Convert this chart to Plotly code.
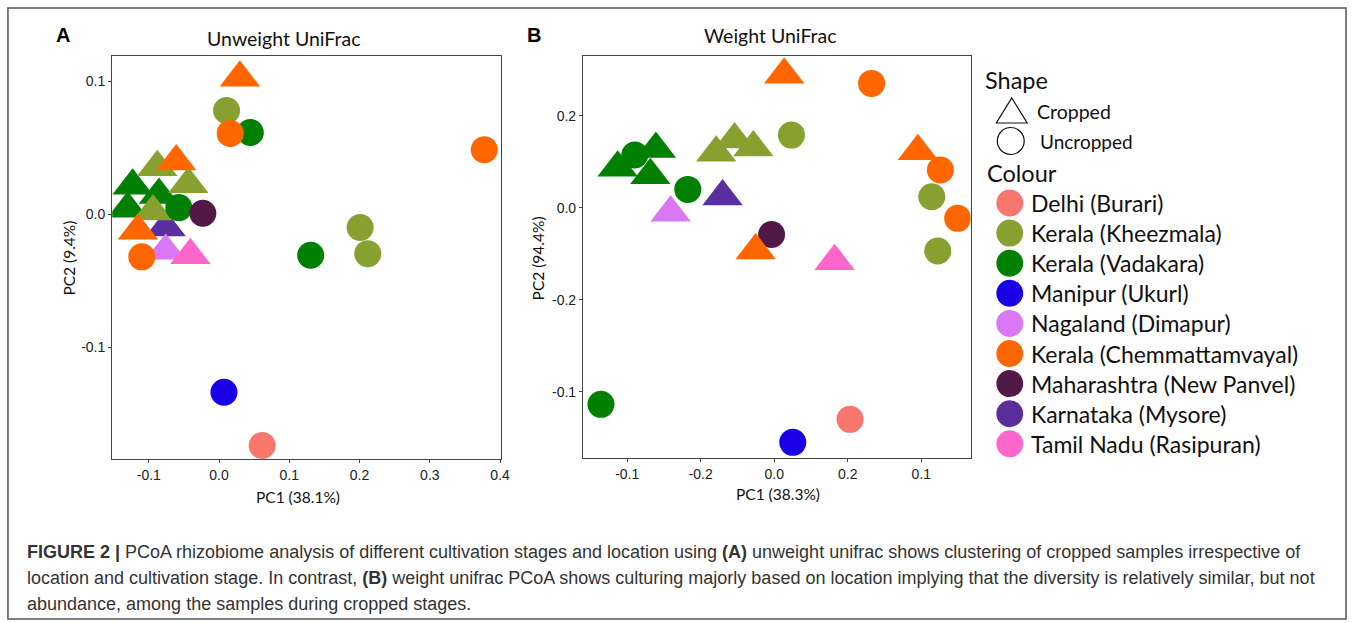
import plotly.graph_objects as go

W, H = 1357, 623

# ---------------- data ----------------
sites = ["Delhi (Burari)", "Kerala (Kheezmala)", "Kerala (Vadakara)", "Manipur (Ukurl)",
         "Nagaland (Dimapur)", "Kerala (Chemmattamvayal)", "Maharashtra (New Panvel)",
         "Karnataka (Mysore)", "Tamil Nadu (Rasipuran)"]
site_colors = ["#F8766D", "#88A030", "#008000", "#1A00E6", "#D977F5",
               "#FF6600", "#521848", "#5B2E9E", "#FF66CC"]

# Panel A  (Unweight UniFrac) - drawn in this order
A_site = ["Karnataka (Mysore)",
          "Kerala (Vadakara)", "Kerala (Vadakara)", "Kerala (Vadakara)",
          "Kerala (Kheezmala)", "Kerala (Kheezmala)", "Kerala (Kheezmala)",
          "Nagaland (Dimapur)", "Tamil Nadu (Rasipuran)",
          "Kerala (Vadakara)", "Kerala (Vadakara)", "Kerala (Vadakara)",
          "Maharashtra (New Panvel)",
          "Kerala (Kheezmala)", "Kerala (Kheezmala)", "Kerala (Kheezmala)",
          "Manipur (Ukurl)", "Delhi (Burari)",
          "Kerala (Chemmattamvayal)", "Kerala (Chemmattamvayal)", "Kerala (Chemmattamvayal)",
          "Kerala (Chemmattamvayal)", "Kerala (Chemmattamvayal)", "Kerala (Chemmattamvayal)"]
A_stage = ["Cropped",
           "Cropped", "Cropped", "Cropped",
           "Cropped", "Cropped", "Cropped",
           "Cropped", "Cropped",
           "Uncropped", "Uncropped", "Uncropped",
           "Uncropped",
           "Uncropped", "Uncropped", "Uncropped",
           "Uncropped", "Uncropped",
           "Cropped", "Cropped", "Cropped",
           "Uncropped", "Uncropped", "Uncropped"]
A_pc1 = [-0.076,
         -0.123, -0.0855, -0.130,
         -0.0879, -0.0437, -0.094,
         -0.076, -0.0408,
         0.0445, -0.0573, 0.1304,
         -0.0231,
         0.0107, 0.2008, 0.2117,
         0.007, 0.0614,
         0.0296, -0.061, -0.1155,
         0.0159, 0.3775, -0.110]
A_pc2 = [-0.010,
         0.0215, 0.0145, 0.0042,
         0.0353, 0.0225, 0.002,
         -0.0275, -0.0308,
         0.0615, 0.005, -0.0308,
         0.0008,
         0.078, -0.010, -0.0296,
         -0.1338, -0.1738,
         0.1027, 0.0397, -0.0123,
         0.0608, 0.0485, -0.032]

# Panel B  (Weight UniFrac)
B_site = ["Kerala (Vadakara)", "Kerala (Vadakara)", "Kerala (Vadakara)",
          "Kerala (Vadakara)", "Kerala (Vadakara)", "Kerala (Vadakara)",
          "Kerala (Kheezmala)", "Kerala (Kheezmala)", "Kerala (Kheezmala)",
          "Kerala (Kheezmala)", "Kerala (Kheezmala)", "Kerala (Kheezmala)",
          "Karnataka (Mysore)", "Nagaland (Dimapur)", "Tamil Nadu (Rasipuran)",
          "Maharashtra (New Panvel)", "Manipur (Ukurl)", "Delhi (Burari)",
          "Kerala (Chemmattamvayal)", "Kerala (Chemmattamvayal)", "Kerala (Chemmattamvayal)",
          "Kerala (Chemmattamvayal)", "Kerala (Chemmattamvayal)", "Kerala (Chemmattamvayal)"]
B_stage = ["Uncropped", "Cropped", "Cropped", "Cropped", "Uncropped", "Uncropped",
           "Cropped", "Cropped", "Cropped", "Uncropped", "Uncropped", "Uncropped",
           "Cropped", "Cropped", "Cropped",
           "Uncropped", "Uncropped", "Uncropped",
           "Uncropped", "Uncropped", "Uncropped", "Cropped", "Cropped", "Cropped"]
B_pc1 = [-0.1897, -0.213, -0.161, -0.1685, -0.1176, -0.2357,
         -0.079, -0.054, -0.0284, 0.0234, 0.2143, 0.2224,
         -0.0703, -0.141, 0.082,
         -0.0036, 0.0252, 0.1031,
         0.1324, 0.226, 0.2495, 0.0135, -0.0253, 0.1954]
B_pc2 = [0.1146, 0.087, 0.1276, 0.071, 0.040, -0.4274,
         0.1196, 0.1487, 0.131, 0.158, 0.0239, -0.094,
         0.0248, -0.0109, -0.116,
         -0.058, -0.510, -0.460,
         0.2704, 0.082, -0.023, 0.289, -0.0927, 0.123]

A_xticks = [-0.1, 0.0, 0.1, 0.2, 0.3, 0.4]
A_xlabels = ["-0.1", "0.0", "0.1", "0.2", "0.3", "0.4"]
A_yticks = [-0.1, 0.0, 0.1]
A_ylabels = ["-0.1", "0.0", "0.1"]
B_xticks = [-0.2, -0.1, 0.0, 0.1, 0.2]
B_xlabels = ["-0.1", "-0.2", "0.0", "0.2", "0.1"]
B_yticks = [-0.4, -0.2, 0.0, 0.2]
B_ylabels = ["-0.1", "-0.2", "0.0", "0.2"]

# ---------------- style ----------------
color_of = dict(zip(sites, site_colors))
symbol_of = {"Cropped": "triangle-up", "Uncropped": "circle"}
size_of = {"Cropped": 35, "Uncropped": 27}
FONT_UI = "Lato"
FONT_TICK = "Liberation Sans"


def px(x):
    return x / W


def py(y):
    return 1 - y / H


fig = go.Figure()
for site, stage, x, y, xa, ya in [(A_site, A_stage, A_pc1, A_pc2, "x", "y"),
                                  (B_site, B_stage, B_pc1, B_pc2, "x2", "y2")]:
    fig.add_trace(go.Scatter(
        x=x, y=y, mode="markers", xaxis=xa, yaxis=ya, showlegend=False,
        marker=dict(color=[color_of[s] for s in site],
                    symbol=[symbol_of[s] for s in stage],
                    size=[size_of[s] for s in stage],
                    opacity=1, line=dict(width=0)),
        hoverinfo="x+y"))

axis_common = dict(showgrid=False, zeroline=False, showline=True, mirror=True,
                   linecolor="#444", linewidth=1.3, ticks="outside", ticklen=3,
                   tickcolor="#444", tickfont=dict(family=FONT_TICK, size=14, color="#222"))

fig.update_layout(
    width=W, height=H, margin=dict(l=0, r=0, t=0, b=0),
    paper_bgcolor="white", plot_bgcolor="white",
    xaxis=dict(domain=[px(113), px(504)], range=[-0.152, 0.4008], anchor="y",
               tickvals=A_xticks, ticktext=A_xlabels, **axis_common),
    yaxis=dict(domain=[py(459), py(56)], range=[-0.184, 0.119], anchor="x",
               tickvals=A_yticks, ticktext=A_ylabels, **axis_common),
    xaxis2=dict(domain=[px(587), px(977)], range=[-0.26, 0.267], anchor="y2",
                tickvals=B_xticks, ticktext=B_xlabels, **axis_common),
    yaxis2=dict(domain=[py(458), py(56)], range=[-0.544, 0.33], anchor="x2",
                tickvals=B_yticks, ticktext=B_ylabels, **axis_common),
)

ann = []
shapes = []


def text(x, y, s, size, family=FONT_UI, color="#111", xanchor="center", angle=0):
    ann.append(dict(x=px(x), y=py(y), xref="paper", yref="paper", text=s, showarrow=False,
                    xanchor=xanchor, yanchor="middle", textangle=angle,
                    font=dict(family=family, size=size, color=color)))


# panel letters and titles
text(63, 35, "<b>A</b>", 20, family="Liberation Sans", color="#000")
text(538, 35, "<b>B</b>", 20, family="Liberation Sans", color="#000")
text(286, 39, "Unweight UniFrac", 19.5)
text(776, 35, "Weight UniFrac", 19.5)
# axis titles
text(300, 497, "PC1 (38.1%)", 15.5)
text(69, 258, "PC2 (9.4%)", 15.5, angle=-90)
text(783, 494, "PC1 (38.3%)", 15.5)
text(542, 258, "PC2 (94.4%)", 15.5, angle=-90)

# legend
text(990, 80, "Shape", 23.5, xanchor="left")
shapes.append(dict(type="path", xref="paper", yref="paper", line=dict(color="#111", width=1.2),
                   path=f"M {px(1003)},{py(123)} L {px(1034)},{py(123)} L {px(1018.5)},{py(98)} Z"))
text(1042, 111, "Cropped", 19.5, xanchor="left")
shapes.append(dict(type="circle", xref="paper", yref="paper", line=dict(color="#111", width=1.2),
                   x0=px(1004), x1=px(1031), y0=py(154.5), y1=py(127.5)))
text(1045, 141, "Uncropped", 19, xanchor="left")
text(992, 173, "Colour", 23.5, xanchor="left")
for i, (s, c) in enumerate(zip(sites, site_colors)):
    yc = 203 + i * 30.1
    shapes.append(dict(type="circle", xref="paper", yref="paper", fillcolor=c,
                       line=dict(width=0), x0=px(1003), x1=px(1030),
                       y0=py(yc + 13.5), y1=py(yc - 13.5)))
    text(1036, yc, s, 23, xanchor="left")

# outer frame
shapes.append(dict(type="rect", xref="paper", yref="paper", x0=px(8), x1=px(1355),
                   y0=py(619), y1=py(8), line=dict(color="#555", width=1.5)))

# caption
cap = ["<b>FIGURE 2 |</b> PCoA rhizobiome analysis of different cultivation stages and location using "
       "<b>(A)</b> unweight unifrac shows clustering of cropped samples irrespective of",
       "location and cultivation stage. In contrast, <b>(B)</b> weight unifrac PCoA shows culturing "
       "majorly based on location implying that the diversity is relatively similar, but not",
       "abundance, among the samples during cropped stages."]
for i, line in enumerate(cap):
    text(25, 552 + i * 26, line, 18, family="Liberation Sans", color="#333", xanchor="left")

fig.update_layout(annotations=ann, shapes=shapes)
fig.write_html("out.html", config={"displayModeBar": False},
               post_script="document.body.style.margin='0';")
